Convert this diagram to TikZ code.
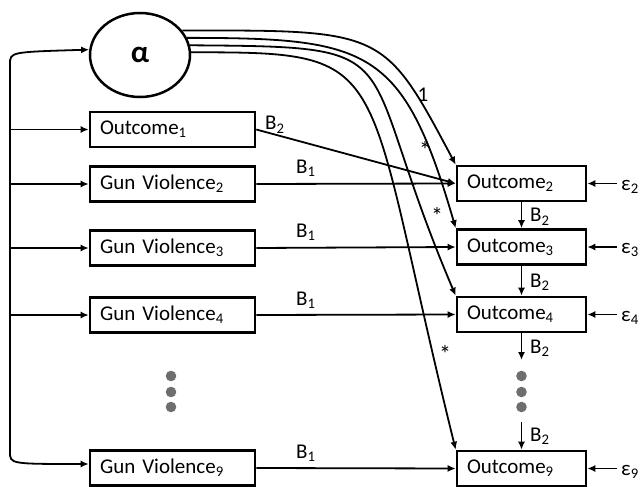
\documentclass[tikz,border=0pt]{standalone}
\usepackage{fontspec}
\setmainfont{Carlito}
\usetikzlibrary{arrows.meta,shapes.geometric}
\definecolor{dotgray}{RGB}{110,110,110}
\begin{document}
\begin{tikzpicture}[x=1pt,y=-1pt,
  txt/.style={font=\fontsize{21}{25}\selectfont},
  box/.style={draw,line width=2.6pt,minimum height=35pt,inner xsep=10pt,inner ysep=0pt,align=left,txt},
  lbox/.style={box,text width=145pt},
  rbox/.style={box,text width=109pt},
  lab/.style={txt,inner sep=0pt},
  star/.style={font=\fontsize{24}{26}\selectfont,inner sep=0pt},
  conn/.style={line width=1.8pt},
  arr/.style={conn,-{Latex[length=8pt,width=7pt]}},
  dotc/.style={fill=dotgray}]
\useasboundingbox (0,0) rectangle (641,487);

% latent node
\node[ellipse,draw,line width=2.5pt,minimum width=100pt,minimum height=84pt,inner sep=0pt,
      font=\fontsize{31}{34}\selectfont\bfseries] (alpha) at (140,55) {α};

% left column
\node[lbox] (o1) at (172.5,129.5) {Outcome\textsubscript{1}};
\node[lbox] (g2) at (172.5,184) {Gun Violence\textsubscript{2}};
\node[lbox] (g3) at (172.5,248) {Gun Violence\textsubscript{3}};
\node[lbox] (g4) at (172.5,315) {Gun Violence\textsubscript{4}};
\node[lbox] (g9) at (172.5,468) {Gun Violence\textsubscript{9}};

% right column
\node[rbox] (o2) at (521.5,183.5) {Outcome\textsubscript{2}};
\node[rbox] (o3) at (521.5,247) {Outcome\textsubscript{3}};
\node[rbox] (o4) at (521.5,314.5) {Outcome\textsubscript{4}};
\node[rbox] (o9) at (521.5,468.5) {Outcome\textsubscript{9}};

% error terms
\node[lab,anchor=base west,inner xsep=4pt] (e2) at (617,190) {ε\textsubscript{2}};
\node[lab,anchor=base west,inner xsep=4pt] (e3) at (617,253.5) {ε\textsubscript{3}};
\node[lab,anchor=base west,inner xsep=4pt] (e4) at (617,321) {ε\textsubscript{4}};
\node[lab,anchor=base west,inner xsep=4pt] (e9) at (617,475) {ε\textsubscript{9}};
\draw[arr] (e2.west |- o2.east) -- (o2.east);
\draw[arr] (e3.west |- o3.east) -- (o3.east);
\draw[arr] (e4.west |- o4.east) -- (o4.east);
\draw[arr] (e9.west |- o9.east) -- (o9.east);

% trunk on the left
\coordinate (tt) at (10,64);
\coordinate (tb) at (10,452);
\draw[conn] (tt) -- (tb);
\draw[arr] (tt) .. controls (10,52) .. (alpha.174);
\draw[arr] (tb) .. controls (10,464) .. ([yshift=4pt]g9.west);
\draw[arr] (o1.west -| tt) -- (o1.west);
\draw[arr] (g2.west -| tt) -- (g2.west);
\draw[arr] (g3.west -| tt) -- (g3.west);
\draw[arr] (g4.west -| tt) -- (g4.west);

% B1 and B2 paths
\draw[arr] (o1.east) -- (o2.west);
\draw[arr] (g2.east) -- (o2.west);
\draw[arr] (g3.east) -- (o3.west);
\draw[arr] (g4.east) -- (o4.west);
\draw[arr] (g9.east) -- (o9.west);
\node[lab,anchor=base west] (lb2) at (265,130) {B\textsubscript{2}};
\node[lab,anchor=base west] (lb1a) at (296,173) {B\textsubscript{1}};
\node[lab,anchor=base west] (lb1b) at (296,237) {B\textsubscript{1}};
\node[lab,anchor=base west] (lb1c) at (296,305) {B\textsubscript{1}};
\node[lab,anchor=base west] (lb1d) at (296,458) {B\textsubscript{1}};

% autoregressive chain
\coordinate (d1) at (521.5,360);
\coordinate (d2) at (521.5,422);
\draw[arr] (o2.south) -- (o3.north);
\draw[arr] (o3.south) -- (o4.north);
\draw[arr] (o4.south) -- (d1);
\draw[arr] (d2) -- (o9.north);
\node[lab,anchor=base west] (rb1) at (530,222) {B\textsubscript{2}};
\node[lab,anchor=base west] (rb2) at (530,287) {B\textsubscript{2}};
\node[lab,anchor=base west] (rb3) at (530,353) {B\textsubscript{2}};
\node[lab,anchor=base west] (rb4) at (530,441) {B\textsubscript{2}};

% ellipsis dots
\fill[dotc] (171,376) circle (5.3pt);
\fill[dotc] (171,392) circle (5.3pt);
\fill[dotc] (171,407) circle (5.3pt);
\fill[dotc] (521.5,376) circle (5.3pt);
\fill[dotc] (521.5,392) circle (5.3pt);
\fill[dotc] (521.5,407) circle (5.3pt);

% loadings from alpha
\draw[arr] (alpha.30) .. controls (384,30) and (384,30) .. (o2.north west);
\draw[arr] (alpha.20) .. controls (369,38) and (403,47) .. (o3.north west);
\draw[arr] (alpha.11) .. controls (421,47) and (350,48) .. (o4.north west);
\draw[arr] (alpha.3) .. controls (399,52) and (359,58) .. (o9.north west);
\node[lab,anchor=base] (l1) at (423,102) {1};
\node[star,anchor=base] (s2) at (425,159) {*};
\node[star,anchor=base] (s3) at (437,224) {*};
\node[star,anchor=base] (s4) at (445,362) {*};
\end{tikzpicture}
\end{document}
